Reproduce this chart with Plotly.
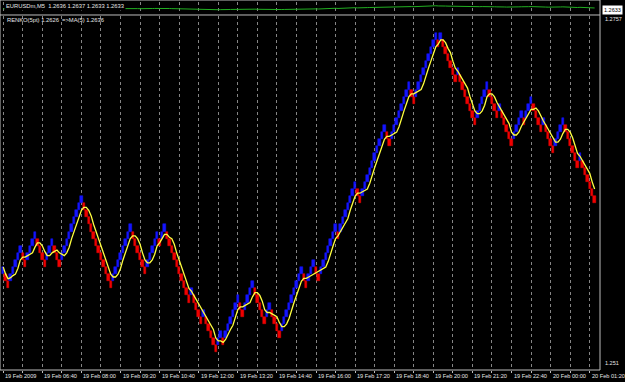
import numpy as np
import pandas as pd
import plotly.graph_objects as go

# ---------------- data ----------------
symbol_header = "EURUSDm,M5  1.2636 1.2637 1.2633 1.2633"
indicator_header = "RENKO(5pt) 1.2626  =>MA(5) 1.2636"
bid_label = "1.2633"
axis_max_label = "1.2757"
axis_min_label = "1.251"

base_price = 1.2626      # close of the last brick
brick_size = 0.0005      # 5 points
start_level = -11        # level (in bricks) before the first visible brick
# signed run lengths of consecutive up (+) / down (-) renko bricks
brick_runs = [1, -2, 5, -2, 4, -4, 3, -3, 9, -12, 8, -6, 5, -1, 2, -10, 1, -4, 1,
              -5, 2, -1, 6, -2, 4, -5, 2, -4, 9, -2, 3, -2, 7, -1, 7, -2, 10, -2,
              8, -2, 9, -1, 1, -6, 1, -7, 5, -4, 1, -5, 4, -1, 3, -4, 1, -4, 4,
              -6, 1, -6]
ma_period = 5
label_every = 16         # bricks between time labels (80 min of M5)
grid_every = 8
time_labels = ["19 Feb 2009", "19 Feb 06:40", "19 Feb 08:00", "19 Feb 09:20",
               "19 Feb 10:40", "19 Feb 12:00", "19 Feb 13:20", "19 Feb 14:40",
               "19 Feb 16:00", "19 Feb 17:20", "19 Feb 18:40", "19 Feb 20:00",
               "19 Feb 21:20", "19 Feb 22:40", "20 Feb 00:00", "20 Feb 01:20"]
y_range = [1.25085, 1.27578]

# ---------------- build bricks ----------------
levels, dirs = [], []
lvl = start_level
for r in brick_runs:
    s = 1 if r > 0 else -1
    for _ in range(abs(r)):
        lvl += s
        levels.append(lvl)
        dirs.append(s)
levels = np.array(levels)
dirs = np.array(dirs)
idx = np.arange(len(levels))
bottoms = base_price + brick_size * levels
closes = np.where(dirs > 0, bottoms + brick_size, bottoms)
ma = pd.Series(closes).rolling(ma_period, min_periods=1).mean()
colors = list(np.where(dirs > 0, "#1414ff", "#f00000"))

FONT = "Liberation Sans"

fig = go.Figure()
fig.add_trace(go.Bar(x=idx, y=[brick_size] * len(idx), base=bottoms,
                     marker=dict(color=colors, line=dict(width=0.5, color=colors)),
                     width=1.0, xaxis="x", yaxis="y", showlegend=False))
fig.add_trace(go.Scatter(x=idx, y=ma, mode="lines",
                         line=dict(color="#ffff40", width=1.3),
                         xaxis="x", yaxis="y", showlegend=False))
# compressed main price window at the top
fig.add_trace(go.Scatter(x=idx, y=closes, mode="lines",
                         line=dict(color="#22b022", width=1),
                         xaxis="x2", yaxis="y2", showlegend=False))

n = len(idx)
grid_vals = list(range(0, n, grid_every))

grid = dict(showgrid=True, gridcolor="#858585", griddash="dot", gridwidth=1)

annotations = []
for k, lab in enumerate(time_labels):
    annotations.append(dict(x=k * label_every, y=-0.017, xref="x", yref="paper",
                            text=lab, showarrow=False, xanchor="left",
                            yanchor="middle", xshift=0,
                            font=dict(family=FONT, size=5.6, color="#e6e6e6")))
annotations += [
    dict(x=0.006, y=0.984, xref="paper", yref="paper", text=symbol_header,
         showarrow=False, xanchor="left", yanchor="middle", bgcolor="#000000",
         font=dict(family=FONT, size=5.8, color="#e6e6e6")),
    dict(x=0.008, y=0.946, xref="paper", yref="paper", text=indicator_header,
         showarrow=False, xanchor="left", yanchor="middle",
         font=dict(family=FONT, size=5.8, color="#e6e6e6")),
    dict(x=1, y=0.973, xref="paper", yref="paper", text=bid_label,
         showarrow=False, xanchor="left", yanchor="middle", xshift=2,
         bgcolor="#ffffff", borderpad=1,
         font=dict(family=FONT, size=5.5, color="#000000")),
    dict(x=1, y=0.9486, xref="paper", yref="paper", text=axis_max_label,
         showarrow=False, xanchor="left", yanchor="middle", xshift=3,
         font=dict(family=FONT, size=5.5, color="#e6e6e6")),
    dict(x=1, y=0.019, xref="paper", yref="paper", text=axis_min_label,
         showarrow=False, xanchor="left", yanchor="middle", xshift=3,
         font=dict(family=FONT, size=5.5, color="#e6e6e6")),
]

shapes = [
    dict(type="rect", xref="paper", yref="paper", x0=0, x1=1, y0=0, y1=1,
         line=dict(color="#bdbdbd", width=1)),
    dict(type="line", xref="paper", yref="paper", x0=0, x1=1, y0=0.9595, y1=0.9595,
         line=dict(color="#bdbdbd", width=1)),
]

fig.update_layout(
    width=625, height=382,
    margin=dict(l=0, r=25, t=0, b=12),
    paper_bgcolor="#000000", plot_bgcolor="#000000",
    bargap=0, barmode="overlay",
    xaxis=dict(range=[-1.31, 244.2], tickmode="array", tickvals=grid_vals,
               ticks="outside", ticklen=2, tickcolor="#bdbdbd",
               showticklabels=False, zeroline=False, showline=False,
               anchor="y", domain=[0, 1], **grid),
    xaxis2=dict(matches="x", anchor="y2", showticklabels=False, ticks="",
                zeroline=False, showline=False, tickmode="array",
                tickvals=grid_vals, **grid),
    yaxis=dict(domain=[0, 0.9568], range=y_range, showticklabels=False,
               showgrid=False, zeroline=False, ticks=""),
    yaxis2=dict(domain=[0.9622, 0.9946], range=[1.2300, 1.2950],
                showticklabels=False, showgrid=False, zeroline=False, ticks=""),
    annotations=annotations, shapes=shapes,
)

fig.write_html("out.html")
